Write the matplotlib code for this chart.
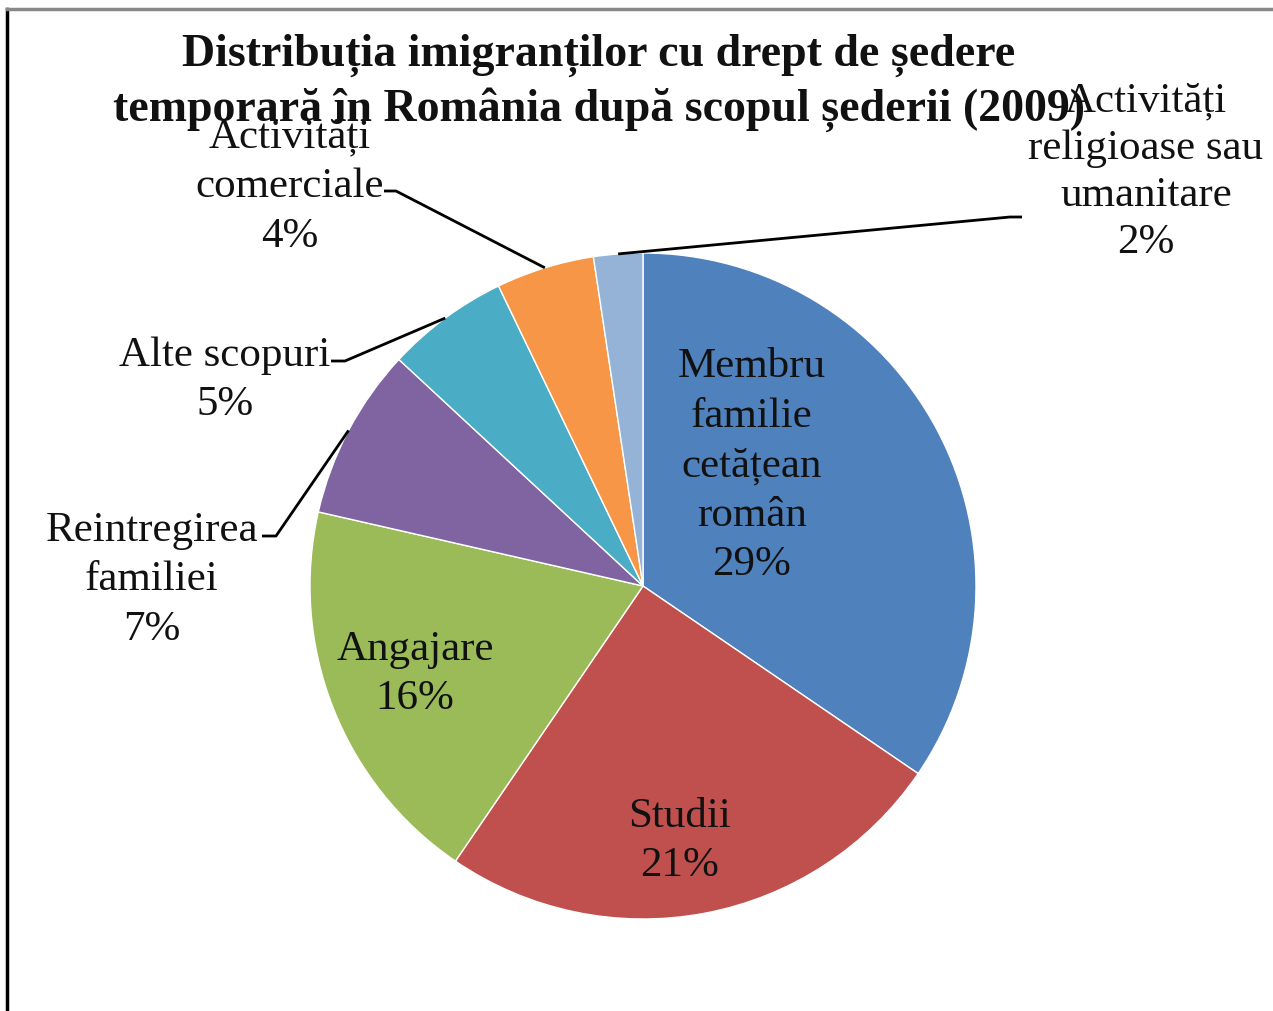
import matplotlib
matplotlib.use("Agg")
import matplotlib.pyplot as plt
from matplotlib.lines import Line2D
import numpy as np

W, H = 1273, 1012

# data
categories = ["Membru familie cetățean român", "Studii", "Angajare",
              "Reintregirea familiei", "Alte scopuri",
              "Activități comerciale", "Activități religioase sau umanitare"]
values = [29, 21, 16, 7, 5, 4, 2]
label_texts = ["Membru\nfamilie\ncetățean\nromân\n29%",
               "Studii\n21%",
               "Angajare\n16%",
               "Reintregirea\nfamiliei\n7%",
               "Alte scopuri\n5%",
               "Activități\ncomerciale\n4%",
               "Activități\nreligioase sau\numanitare\n2%"]
colors = ["#4F81BD", "#C0504D", "#9BBB59", "#8064A2",
          "#4BACC6", "#F79646", "#95B3D7"]

plt.rcParams["font.family"] = ["Liberation Serif", "DejaVu Serif"]


def py(y):
    # pixel row (from top) -> data y (from bottom)
    return H - y


fig = plt.figure(figsize=(W / 100, H / 100), dpi=100)
ax = fig.add_axes([0, 0, 1, 1])

cx, cy, R = 643, py(587), 333
wedges, _ = ax.pie(values, colors=colors, startangle=90, counterclock=False,
                   center=(cx, cy), radius=R,
                   wedgeprops=dict(edgecolor="white", linewidth=1.0))
ax.set_xlim(0, W)
ax.set_ylim(0, H)
ax.set_aspect("auto")
ax.axis("off")

FS = 31
LS = 1.37

# labels inside slices
inside = {0: (752, 466), 1: (680, 841), 2: (415, 674)}
for i, (x, y) in inside.items():
    ax.text(x, py(y), label_texts[i], ha="center", va="center",
            fontsize=FS, linespacing=LS, color="#111111")

# outside labels: (text center, elbow point, line start at text edge)
outside = {
    3: ((152, 580), (276, 537), (262, 537)),
    4: ((225, 380), (345, 362), (331, 362)),
    5: ((290, 187), (396, 192), (384, 192)),
    6: ((1146, 172), (1010, 218), (1022, 218)),
}
for i, ((tx, ty), (ex, ey), (sx, sy)) in outside.items():
    ls = 1.3 if i == 6 else LS
    ax.text(tx, py(ty), label_texts[i], ha="center", va="center",
            fontsize=FS, linespacing=ls, color="#111111")
    w = wedges[i]
    mid = np.deg2rad((w.theta1 + w.theta2) / 2)
    px_, py_ = cx + R * np.cos(mid), cy + R * np.sin(mid)
    ax.plot([sx, ex, px_], [py(sy), py(ey), py_], color="black", lw=2,
            solid_capstyle="butt")

ax.text(599, py(83), "Distribuția imigranților cu drept de ședere\n"
        "temporară în România după scopul șederii (2009)",
        ha="center", va="center", fontsize=33, fontweight="bold",
        linespacing=1.3, color="#111111")

# frame edges
fig.add_artist(Line2D([7 / W, 7 / W], [0, 1 - 10 / H], color="black", lw=2.5))
fig.add_artist(Line2D([7 / W, 1], [1 - 10 / H, 1 - 10 / H], color="#888888", lw=2.5))

fig.savefig("out.png", dpi=100, facecolor="white")
